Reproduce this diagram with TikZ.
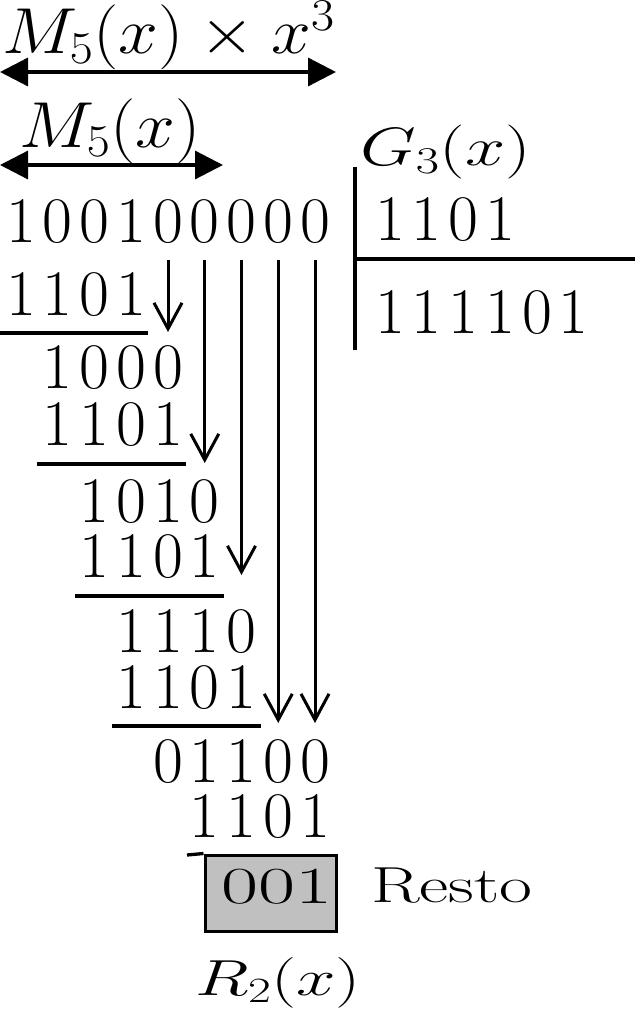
\RequirePackage{fix-cm}
\documentclass[tikz,border=0pt]{standalone}
\usetikzlibrary{arrows.meta}
\definecolor{boxgray}{RGB}{192,192,192}
\tikzset{
  digit/.style={font=\fontsize{65}{70}\selectfont, inner sep=0pt, anchor=base},
  tag/.style={font=\fontsize{65}{70}\selectfont, inner sep=0pt, anchor=base west},
  rule/.style={line width=3.3pt},
  down/.style={line width=3pt, -{Straight Barb[length=26pt,width=28pt,line width=3pt]}},
  span/.style={line width=3.3pt, {Triangle[length=28pt,width=28pt]}-{Triangle[length=28pt,width=28pt]}},
  restbox/.style={draw, line width=3pt, fill=boxgray, minimum width=131pt, minimum height=76pt, inner sep=0pt}
}
% one row of digits: name, x of first column, first column, baseline, digits
\newcommand{\digitrow}[5]{%
  \foreach \d [count=\k from #3] in {#5}
    \node[digit] (#1-\k) at ({#2+36.75*(\k-1)},#4) {\d};%
}

\begin{document}
\begin{tikzpicture}[x=1pt,y=-1pt]
    \useasboundingbox (0,0) rectangle (635,1022);

    % Widths
    \node[tag] (mx) at (2,54) {\scalebox{1.1}[1]{$M_5(x)\times x^3$}};
    \coordinate (mxl) at (0,72);
    \coordinate (mxr) at (336,72);
    \draw[span] (mxl) -- (mxr);
    \node[tag] (m) at (19,147) {\scalebox{1.1}[1]{$M_5(x)$}};
    \coordinate (ml) at (0,165);
    \coordinate (mr) at (223,165);
    \draw[span] (ml) -- (mr);

    % Division steps
    \digitrow{r0}{21}{1}{242}{1,0,0,1,0,0,0,0,0}
    \digitrow{r1}{21}{1}{315}{1,1,0,1}
    \digitrow{r2}{21}{2}{388}{1,0,0,0}
    \digitrow{r3}{21}{2}{445}{1,1,0,1}
    \digitrow{r4}{21}{3}{522}{1,0,1,0}
    \digitrow{r5}{21}{3}{577}{1,1,0,1}
    \digitrow{r6}{21}{4}{652}{1,1,1,0}
    \digitrow{r7}{21}{4}{708}{1,1,0,1}
    \digitrow{r8}{21}{5}{782}{0,1,1,0,0}
    \digitrow{r9}{21}{6}{837}{1,1,0,1}

    \draw[rule] (0,333) -- (148,333);
    \draw[rule] (37,464) -- (186,464);
    \draw[rule] (75,596) -- (224,596);
    \draw[rule] (112,726) -- (261,726);

    % Bits brought down
    \coordinate (t5) at (168,332);
    \coordinate (t6) at (204.75,463);
    \coordinate (t7) at (241.5,575);
    \coordinate (t8) at (278.25,723);
    \coordinate (t9) at (315,723);
    \foreach \c in {5,...,9}
        \draw[down] ([yshift=-18pt]r0-\c.base) -- (t\c);

    % Divisor and quotient
    \node[tag] (g) at (360,165) {\scalebox{1.11}[0.83]{$G_3(x)$}};
    \digitrow{dv}{390}{1}{240}{1,1,0,1}
    \digitrow{qt}{390}{1}{333}{1,1,1,1,0,1}
    \coordinate (vt) at (355,167);
    \coordinate (vb) at (355,350);
    \coordinate (hl) at (355,259);
    \coordinate (hr) at (635,259);
    \draw[rule] (vt) -- (vb);
    \draw[rule] (hl) -- (hr);

    % Remainder
    \node[restbox] (rbox) at (270.5,893) {};
    \coordinate (rl) at (187,855);
    \draw[rule] (rl) -- (rbox.north west);
    \node[digit] (rest) at (277,903) {\scalebox{1.24}[0.8]{001}};
    \node[tag] (lbl) at (371,902) {\scalebox{1.1}[0.78]{Resto}};
    \node[tag] (r2) at (195,995) {\scalebox{1.09}[0.78]{$R_2(x)$}};
\end{tikzpicture}
\end{document}
